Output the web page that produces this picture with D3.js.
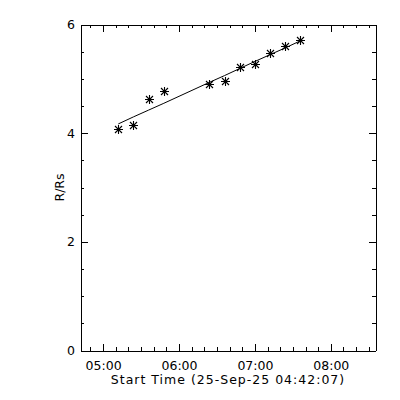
<!DOCTYPE html>
<html>
<head>
<meta charset="utf-8">
<script src="https://cdn.jsdelivr.net/npm/d3@7"></script>
<style>
  html, body { margin: 0; padding: 0; background: #fff; }
  svg { display: block; }
  text { font-family: "DejaVu Sans", sans-serif; fill: #000; }
</style>
</head>
<body>
<svg id="chart" width="400" height="400"></svg>
<script>
// ---- data ----
const obsTimes = ["05:12", "05:24", "05:36", "05:48", "06:24", "06:36", "06:48", "07:00", "07:12", "07:24", "07:36"];
const heights  = [4.08, 4.15, 4.62, 4.77, 4.91, 4.96, 5.21, 5.28, 5.48, 5.61, 5.72];
const fitHeights = [4.17, 4.30, 4.425, 4.55, 4.935, 5.06, 5.19, 5.32, 5.445, 5.57, 5.70];
const xTickLabels = ["05:00", "06:00", "07:00", "08:00"];
const yTickValues = [0, 2, 4, 6];
const startLabel = "25-Sep-25 04:42:07";
const xDomain = ["04:42:07", "08:35:20"];
const yDomain = [0, 6];
const xTitle = "Start Time (" + startLabel + ")";
const yTitle = "R/Rs";

// ---- helpers ----
const parse = s => {
  const p = s.split(":").map(Number);
  return new Date(Date.UTC(2025, 8, 25, p[0], p[1], p[2] || 0));
};

const svg = d3.select("#chart");
const L = 80.5, R = 375.5, T = 24.5, B = 350.5;
const FS = 12.5;

const x = d3.scaleUtc().domain(xDomain.map(parse)).range([L, R]);
const y = d3.scaleLinear().domain(yDomain).range([B, T]);

const majorX = xTickLabels.map(parse);
const minorX = d3.utcMinute.every(10).range(x.domain()[0], x.domain()[1])
  .filter(d => !majorX.some(m => +m === +d));
const minorY = d3.range(0, 6.01, 0.5).filter(v => !yTickValues.includes(v));

const fmt = d3.utcFormat("%H:%M");

function styleAxis(g) {
  g.selectAll("path").attr("stroke", "#000").attr("stroke-width", 1).attr("shape-rendering", "crispEdges");
  g.selectAll("line").attr("stroke", "#000").attr("stroke-width", 1).attr("shape-rendering", "crispEdges");
  g.selectAll("text").style("font-family", "DejaVu Sans, sans-serif").attr("fill", "#000").attr("font-size", FS);
}

// bottom axis
svg.append("g").attr("transform", `translate(0,${B})`)
  .call(d3.axisBottom(x).tickValues(minorX).tickSize(-3.5).tickSizeOuter(0).tickFormat(""))
  .call(styleAxis);
svg.append("g").attr("transform", `translate(0,${B})`)
  .call(d3.axisBottom(x).tickValues(majorX).tickSize(-7).tickSizeOuter(0).tickFormat(fmt).tickPadding(10.5))
  .call(g => g.select("path").remove())
  .call(styleAxis);
// top axis
svg.append("g").attr("transform", `translate(0,${T})`)
  .call(d3.axisTop(x).tickValues(minorX).tickSize(-3.5).tickSizeOuter(0).tickFormat(""))
  .call(styleAxis);
svg.append("g").attr("transform", `translate(0,${T})`)
  .call(d3.axisTop(x).tickValues(majorX).tickSize(-7).tickSizeOuter(0).tickFormat(""))
  .call(g => g.select("path").remove())
  .call(styleAxis);
// left axis
svg.append("g").attr("transform", `translate(${L},0)`)
  .call(d3.axisLeft(y).tickValues(minorY).tickSize(-3.5).tickSizeOuter(0).tickFormat(""))
  .call(styleAxis);
svg.append("g").attr("transform", `translate(${L},0)`)
  .call(d3.axisLeft(y).tickValues(yTickValues).tickSize(-7).tickSizeOuter(0).tickFormat(d3.format("d")).tickPadding(5.5))
  .call(g => g.select("path").remove())
  .call(styleAxis);
// right axis
svg.append("g").attr("transform", `translate(${R},0)`)
  .call(d3.axisRight(y).tickValues(minorY).tickSize(-3.5).tickSizeOuter(0).tickFormat(""))
  .call(styleAxis);
svg.append("g").attr("transform", `translate(${R},0)`)
  .call(d3.axisRight(y).tickValues(yTickValues).tickSize(-7).tickSizeOuter(0).tickFormat(""))
  .call(g => g.select("path").remove())
  .call(styleAxis);

// titles
svg.append("text")
  .attr("x", (L + R) / 2).attr("y", 384)
  .attr("text-anchor", "middle").attr("font-size", FS)
  .attr("letter-spacing", 1)
  .text(xTitle);
svg.append("text")
  .attr("transform", `translate(63.5,${(T + B) / 2}) rotate(-90)`)
  .attr("text-anchor", "middle").attr("font-size", FS)
  .text(yTitle);

// fit line
const pts = obsTimes.map((t, i) => ({ t: parse(t), r: heights[i], f: fitHeights[i] }));
svg.append("path")
  .datum(pts)
  .attr("fill", "none").attr("stroke", "#000").attr("stroke-width", 1)
  .attr("d", d3.line().x(d => x(d.t)).y(d => y(d.f)));

// asterisk markers
const s = 4.5, dg = 3.5;
const star = `M${-s},0H${s}M0,${-s}V${s}M${-dg},${-dg}L${dg},${dg}M${-dg},${dg}L${dg},${-dg}`;
svg.append("g").selectAll("path.pt")
  .data(pts).join("path")
  .attr("class", "pt")
  .attr("transform", d => `translate(${Math.round(x(d.t)) + 0.5},${Math.round(y(d.r)) + 0.5})`)
  .attr("d", star)
  .attr("fill", "none").attr("stroke", "#000").attr("stroke-width", 1.1);
</script>
</body>
</html>
